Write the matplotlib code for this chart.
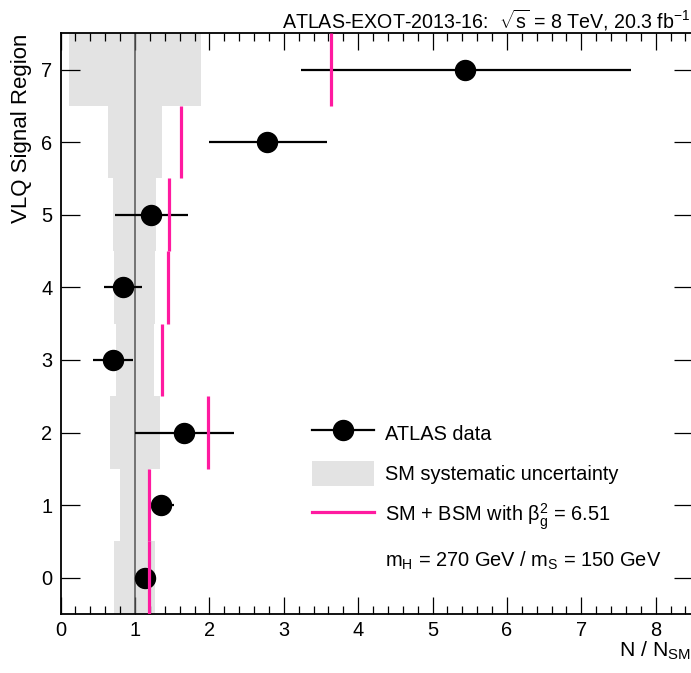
import numpy as np
import matplotlib
matplotlib.use("Agg")
import matplotlib.pyplot as plt
from matplotlib.lines import Line2D
from matplotlib.patches import Patch
from matplotlib.ticker import MultipleLocator

plt.rcParams['font.family'] = ['Liberation Sans', 'DejaVu Sans']
plt.rcParams['mathtext.fontset'] = 'custom'
plt.rcParams['mathtext.rm'] = 'Liberation Sans'
plt.rcParams['mathtext.it'] = 'Liberation Sans:italic'
plt.rcParams['mathtext.bf'] = 'Liberation Sans:bold'

# ---- data ----
regions = np.array([0, 1, 2, 3, 4, 5, 6, 7])
data_val = np.array([1.13, 1.35, 1.66, 0.70, 0.84, 1.22, 2.78, 5.44])
data_lo = np.array([1.08, 1.17, 1.00, 0.44, 0.58, 0.73, 1.99, 3.23])
data_hi = np.array([1.18, 1.53, 2.33, 0.97, 1.10, 1.71, 3.58, 7.67])
sm_lo = np.array([0.72, 0.80, 0.67, 0.75, 0.72, 0.71, 0.64, 0.11])
sm_hi = np.array([1.27, 1.20, 1.34, 1.26, 1.27, 1.28, 1.36, 1.89])
bsm_val = np.array([1.19, 1.19, 1.98, 1.36, 1.44, 1.46, 1.62, 3.64])

PINK = '#ff1aa0'
GRAY = '#e3e3e3'

fig = plt.figure(figsize=(6.91, 6.73), dpi=100)
W, H = 691.0, 673.0
x0, x1 = 60.6, 60.6 + 8.5 * 74.39
y_top, y_bot = 33.3, 614.0
ax = fig.add_axes([x0 / W, (H - y_bot) / H, (x1 - x0) / W, (y_bot - y_top) / H])

ax.barh(regions, sm_hi - sm_lo, left=sm_lo, height=1.0, color=GRAY, lw=0, zorder=1)
ax.axvline(1.0, color='#555555', lw=1.1, zorder=2)
ax.errorbar(data_val, regions, xerr=[data_val - data_lo, data_hi - data_val],
            fmt='o', color='black', ms=14.4, elinewidth=1.6, capsize=0, zorder=3)
ax.vlines(bsm_val, regions - 0.5, regions + 0.5, color=PINK, lw=2.3, zorder=4)

ax.set_xlim(0, 8.5)
ax.set_ylim(-0.5, 7.5)
ax.xaxis.set_major_locator(MultipleLocator(1))
ax.xaxis.set_minor_locator(MultipleLocator(0.2))
ax.yaxis.set_major_locator(MultipleLocator(1))
ax.tick_params(axis='both', which='both', direction='in', top=True, right=True,
               labelsize=14.4, width=0.9)
ax.tick_params(axis='x', which='major', length=12, pad=5)
ax.tick_params(axis='x', which='minor', length=6)
ax.tick_params(axis='y', which='major', length=13.7, pad=6)
for s in ax.spines.values():
    s.set_linewidth(1.3)

ax.set_xlabel(r'N / N$_{\rm SM}$', fontsize=15.3, ha='right', va='top')
ax.xaxis.set_label_coords((691 - x0) / (x1 - x0), -(640 - y_bot) / (y_bot - y_top))
ax.set_ylabel('VLQ Signal Region', fontsize=16, ha='center', va='top',
              rotation_mode='default')
ax.yaxis.set_label_coords(-(x0 - 22.0) / (x1 - x0), 1.0)

fig.text(282.0 / W, 1 - 28.3 / H,
         r'ATLAS-EXOT-2013-16:  $\sqrt{\rm s}$ = 8 TeV, 20.3 fb$^{-1}$',
         fontsize=14.1, ha='left', va='baseline')

handles = [
    Line2D([], [], color='black', marker='o', ms=14.4, lw=1.6),
    Patch(facecolor=GRAY, edgecolor='none'),
    Line2D([], [], color=PINK, lw=2.3),
    Line2D([], [], linestyle='none'),
]
labels = ['ATLAS data', 'SM systematic uncertainty',
          r'SM + BSM with β$_{\rm g}^{2}$ = 6.51',
          r'm$_{\rm H}$ = 270 GeV / m$_{\rm S}$ = 150 GeV']
leg = ax.legend(handles, labels, loc='upper left',
                bbox_to_anchor=((312 - x0) / (x1 - x0), 1 - (421 - y_top) / (y_bot - y_top)),
                frameon=False, fontsize=14.4, handlelength=3.1, handleheight=1.5,
                handletextpad=0.55, labelspacing=0.8, borderpad=0, borderaxespad=0)

fig.savefig('out.png', dpi=100)
